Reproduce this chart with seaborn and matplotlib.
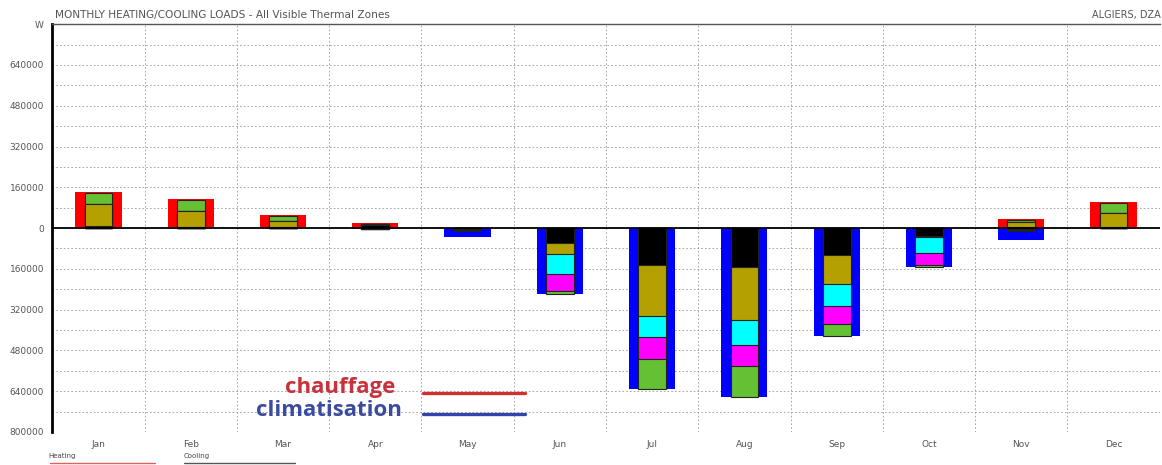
import numpy as np
import seaborn as sns
import matplotlib.pyplot as plt
from matplotlib.ticker import MultipleLocator
from matplotlib.lines import Line2D

# Monthly loads (W)
months = ['Jan', 'Feb', 'Mar', 'Apr', 'May', 'Jun', 'Jul', 'Aug', 'Sep', 'Oct', 'Nov', 'Dec']
heating_total = [142000, 113000, 51000, 18000, 2000, 0, 0, 0, 0, 0, 35000, 103000]
cooling_total = [0, 0, 0, 4000, 34000, 257000, 632000, 663000, 425000, 151000, 47000, 0]

# per zone loads: black, olive, cyan, magenta, green zones
zone_colors = ['#000000', '#b4a000', '#00ffff', '#ff00ff', '#66c033']
heat_black = [8000, 6000, 4000, 12000, 0, 0, 0, 0, 0, 0, 3000, 5000]
heat_olive = [86000, 60000, 25000, 4000, 0, 0, 0, 0, 0, 0, 20000, 55000]
heat_cyan = [0] * 12
heat_magenta = [0] * 12
heat_green = [43000, 45000, 20000, 0, 0, 0, 0, 0, 0, 0, 10000, 40000]

cool_black = [0, 0, 0, 2000, 3000, 58000, 144000, 152000, 105000, 30000, 3000, 0]
cool_olive = [0, 0, 0, 0, 2000, 43000, 199000, 207000, 113000, 4000, 2000, 0]
cool_cyan = [0, 0, 0, 0, 4000, 78000, 86000, 101000, 86000, 62000, 4000, 0]
cool_magenta = [0, 0, 0, 0, 1000, 66000, 86000, 82000, 74000, 48000, 1000, 0]
cool_green = [0, 0, 0, 0, 0, 12000, 117000, 121000, 47000, 7000, 0, 0]

heat_zones = [heat_black, heat_olive, heat_cyan, heat_magenta, heat_green]
cool_zones = [cool_black, cool_olive, cool_cyan, cool_magenta, cool_green]

sns.set_style('white')
plt.rcParams['font.family'] = ['DejaVu Sans']

fig = plt.figure(figsize=(11.62, 4.65), dpi=100)
ax = fig.add_axes([0.045, 0.071, 0.953, 0.877])

# outer totals
sns.barplot(x=months, y=heating_total, order=months, color='#ff0000', width=0.5,
            saturation=1, errorbar=None, linewidth=0, ax=ax)
sns.barplot(x=months, y=[-v for v in cooling_total], order=months, color='#0000ff', width=0.5,
            saturation=1, errorbar=None, linewidth=0, ax=ax)


# inner zone stacks (draw cumulative bars from largest to smallest)
def draw_stack(zones, sign):
    cum = np.cumsum(np.array(zones, dtype=float), axis=0) * sign
    for k in range(len(zones) - 1, -1, -1):
        sns.barplot(x=months, y=cum[k], order=months, color=zone_colors[k], width=0.3,
                    saturation=1, errorbar=None, edgecolor='#222222', linewidth=0.8, ax=ax)


draw_stack(heat_zones, 1)
draw_stack(cool_zones, -1)

ax.axhline(0, color='black', lw=1.3, zorder=5)

# axes, ticks, grid
ax.set_xlim(-0.5, 11.5)
ax.set_ylim(-800000, 800000)
yt = np.arange(-800000, 800001, 160000)
ax.set_yticks(yt)
ylabels = [str(abs(v)) for v in yt]
ylabels[-1] = 'W'
ax.set_yticklabels(ylabels)
ax.yaxis.set_minor_locator(MultipleLocator(80000))
ax.set_xticks(np.arange(-0.5, 12, 1), minor=True)
ax.grid(which='both', axis='y', ls=(0, (2, 2.5)), color='#9a9a9a', lw=0.6)
ax.grid(which='minor', axis='x', ls=(0, (2, 2.5)), color='#9a9a9a', lw=0.6)
ax.set_axisbelow(True)
ax.set_xlabel('')
ax.set_ylabel('')
ax.tick_params(axis='both', which='major', labelsize=6.5, labelcolor='#555555',
               length=3, width=0.8, color='#333333', pad=3)
ax.tick_params(axis='both', which='minor', length=0)

for s in ['right', 'bottom']:
    ax.spines[s].set_visible(False)
ax.spines['left'].set_linewidth(2)
ax.spines['left'].set_color('black')
ax.spines['top'].set_linewidth(1)
ax.spines['top'].set_color('#555555')

# header texts
fig.text(0.047, 0.968, 'MONTHLY HEATING/COOLING LOADS - All Visible Thermal Zones',
         fontsize=7.6, color='#555555', va='center', ha='left')
fig.text(0.999, 0.968, 'ALGIERS, DZA', fontsize=7, color='#555555', va='center', ha='right')

# overlay annotation
ax.text(0.31, 0.11, 'chauffage', transform=ax.transAxes, ha='right', va='center',
        fontsize=16, fontweight='bold', color='#c8323c', family=['Open Sans', 'DejaVu Sans'])
ax.text(0.316, 0.052, 'climatisation', transform=ax.transAxes, ha='right', va='center',
        fontsize=16, fontweight='bold', color='#3b4ba0', family=['Open Sans', 'DejaVu Sans'])
ax.add_line(Line2D([0.335, 0.427], [0.096, 0.096], transform=ax.transAxes,
                   color='#d03030', lw=2.4, zorder=6))
ax.add_line(Line2D([0.335, 0.427], [0.044, 0.044], transform=ax.transAxes,
                   color='#3344aa', lw=2.4, zorder=6))

# bottom key
fig.text(0.042, 0.019, 'Heating', fontsize=5, color='#444444', va='center')
fig.text(0.158, 0.019, 'Cooling', fontsize=5, color='#444444', va='center')
fig.add_artist(Line2D([0.043, 0.133], [0.004, 0.004], color='#e06060', lw=1))
fig.add_artist(Line2D([0.158, 0.254], [0.004, 0.004], color='#555555', lw=1))

fig.savefig('out.png', dpi=100)
